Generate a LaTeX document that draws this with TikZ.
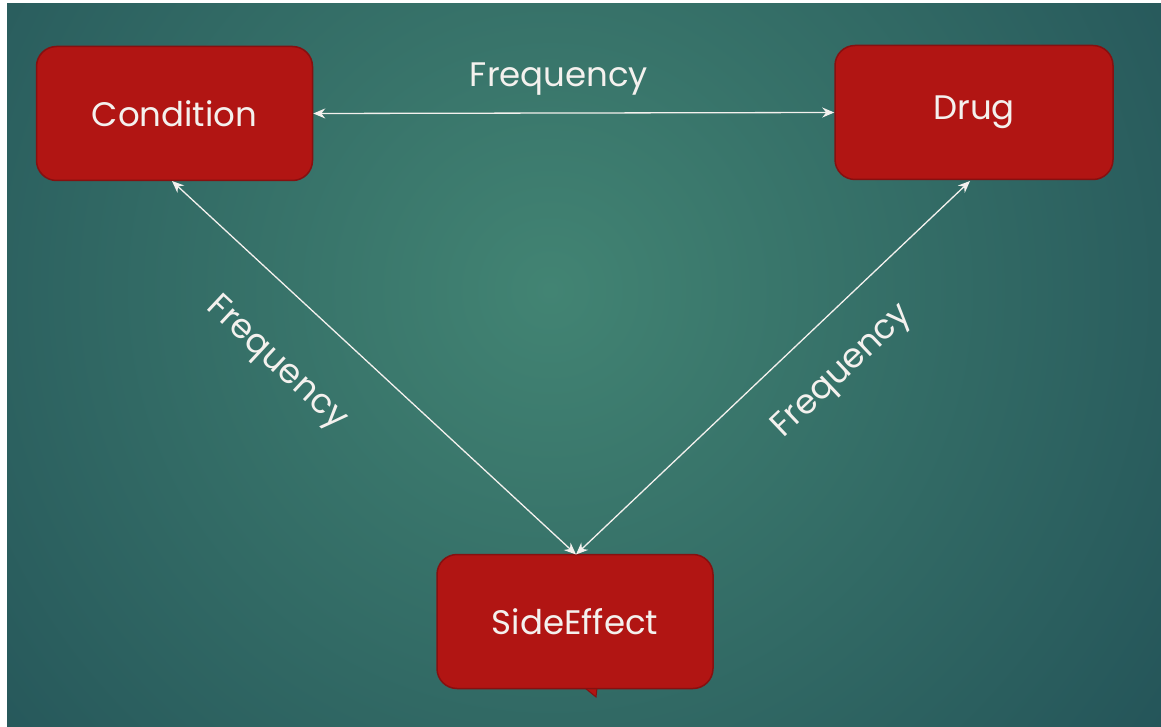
\documentclass[tikz,border=0pt]{standalone}
\usepackage{fontspec}
\setmainfont{Poppins}
\usetikzlibrary{arrows.meta}
\definecolor{bginner}{HTML}{428473}
\definecolor{bgouter}{HTML}{1A4450}
\definecolor{boxfill}{HTML}{B11513}
\definecolor{boxline}{HTML}{861010}
\definecolor{txt}{HTML}{F4F1EE}
\tikzset{
  box/.style={draw=boxline, line width=1.5pt, fill=boxfill, rounded corners=20pt,
    minimum width=#1, minimum height=134pt, inner sep=0pt, text=txt,
    font=\fontsize{34}{40}\selectfont},
  conn/.style={draw=txt, line width=1.3pt, {Stealth[length=12pt,width=10pt]}-{Stealth[length=12pt,width=10pt]}},
  lab/.style={text=txt, font=\fontsize{34}{40}\selectfont, inner sep=0pt}
}
\begin{document}
\begin{tikzpicture}[x=1pt,y=-1pt]
\useasboundingbox (0,0) rectangle (1161,727);
\fill[white] (0,0) rectangle (1161,727);
\begin{scope}
\clip (7,4) rectangle (1161,727);
\shade[inner color=bginner, outer color=bgouter] (550,290) circle (1020);
\end{scope}
\node[box=276pt] (cond) at (174.5,113.5) {Condition};
\node[box=278pt] (drug) at (974,112.5) {Drug};
\fill[boxfill, draw=boxline, line width=1pt] (585,688) -- (597,688) -- (596,697) -- cycle;
\node[box=276pt] (side) at (575,621.5) {SideEffect};
\coordinate (sidetop) at (576,554.5);
\draw[conn] (cond.east) -- (drug.west);
\draw[conn] (172,181) -- (sidetop);
\draw[conn] (970,181) -- (sidetop);
\node[lab] (ftop) at (559,79) {Frequency};
\node[lab, rotate=-43] (fleft) at (276,364) {Frequency};
\node[lab, rotate=43.5] (fright) at (843,372) {Frequency};
\end{tikzpicture}
\end{document}
